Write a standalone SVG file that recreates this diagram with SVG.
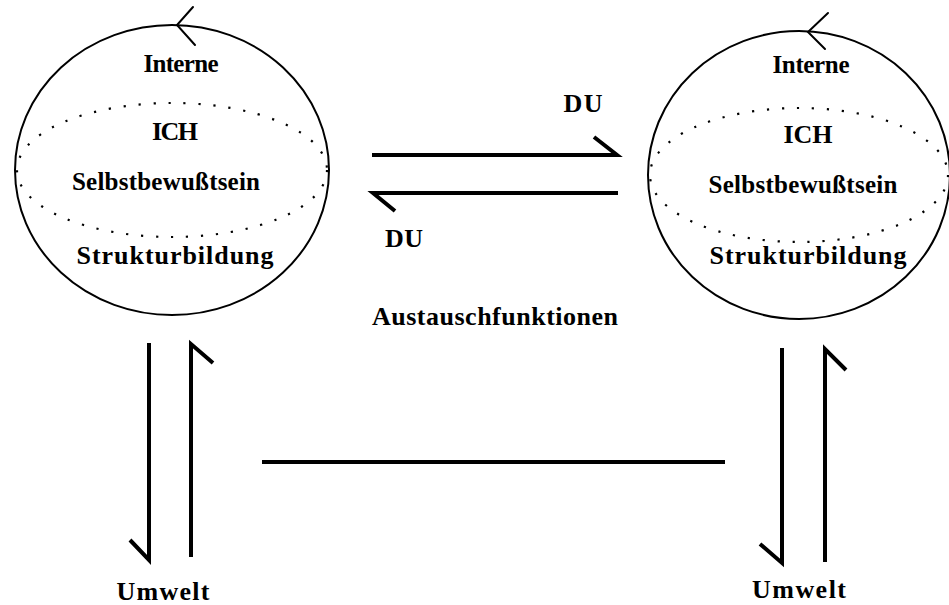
<svg xmlns="http://www.w3.org/2000/svg" width="949" height="605" viewBox="0 0 949 605">
<style>
.bg{fill:#fff}
.circ{fill:none;stroke:#000;stroke-width:2}
.dots{fill:none;stroke:#000;stroke-width:2.2;stroke-dasharray:2.2 12.8}
.thin{fill:none;stroke:#000;stroke-width:2;stroke-linecap:round}
.conn{fill:none;stroke:#000;stroke-width:4;stroke-linecap:butt;stroke-linejoin:miter}
text{font-family:"Liberation Serif","DejaVu Serif",serif;font-weight:bold;font-size:26px;fill:#000;text-anchor:middle}
.sm{font-size:25px}
</style>
<rect class="bg" x="0" y="0" width="949" height="605"/>
<g id="node-left">
  <ellipse class="circ" cx="172" cy="170" rx="157" ry="145"/>
  <ellipse class="dots" cx="172" cy="170" rx="155" ry="67"/>
  <path class="thin" d="M193 7 L177 25 L195 45"/>
  <text class="sm" x="181" y="72" textLength="75">Interne</text>
  <text x="175" y="140" textLength="46">ICH</text>
  <text class="sm" x="166" y="190" textLength="188">Selbstbewußtsein</text>
  <text x="175" y="264" textLength="197">Strukturbildung</text>
</g>
<g id="node-right">
  <ellipse class="circ" cx="799" cy="175" rx="151" ry="144"/>
  <ellipse class="dots" cx="799" cy="175" rx="149" ry="67"/>
  <path class="thin" d="M828 13 L808 32 L825 49"/>
  <text class="sm" x="811" y="73" textLength="77">Interne</text>
  <text x="808" y="143" textLength="49">ICH</text>
  <text class="sm" x="803" y="193" textLength="189">Selbstbewußtsein</text>
  <text x="808" y="264" textLength="197">Strukturbildung</text>
</g>
<g id="label-du-top"><text x="583" y="112" textLength="39">DU</text></g>
<g id="label-du-bottom"><text x="404" y="247" textLength="38">DU</text></g>
<g id="label-austausch"><text x="495" y="325" textLength="246">Austauschfunktionen</text></g>
<g id="umwelt-left"><text x="163" y="600" textLength="93">Umwelt</text></g>
<g id="umwelt-right"><text x="799" y="598" textLength="94">Umwelt</text></g>
<g id="connectors">
  <path class="conn" d="M372 155 H617 L594 137"/>
  <path class="conn" d="M618 193 H373 L395 211"/>
  <path class="conn" d="M149 343 V560 L130 540"/>
  <path class="conn" d="M191 557 V344 L213 363"/>
  <path class="conn" d="M782 348 V563 L760 544"/>
  <path class="conn" d="M825 562 V349 L846 370"/>
  <path class="conn" d="M262 462 H725"/>
</g>
</svg>
